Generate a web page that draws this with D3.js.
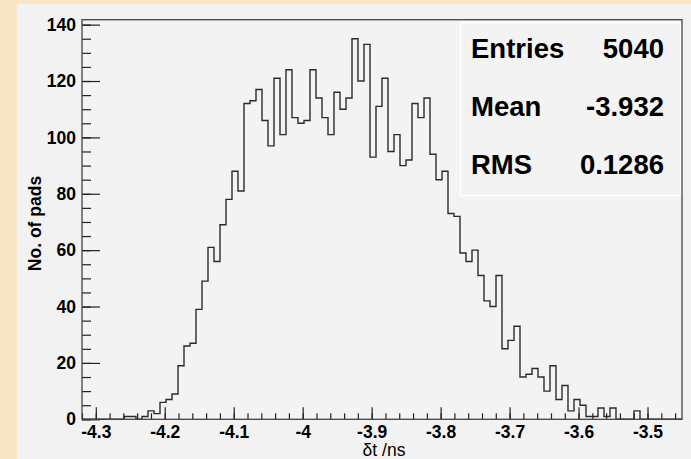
<!DOCTYPE html>
<html>
<head>
<meta charset="utf-8">
<script src="https://cdn.jsdelivr.net/npm/d3@7"></script>
<style>
  html, body { margin: 0; padding: 0; background: #f9e6c4; }
  svg { display: block; }
</style>
</head>
<body>
<svg id="chart" width="691" height="459"></svg>
<script>
// ---- data ----
const binLow = -4.32;
const binHigh = -3.45;
const counts = [
  0,0,0,0,0,0,0,1,1,0,
  1,3,2,6,7,9,19,26,27,39,
  49,61,56,69,78,88,81,112,113,117,
  106,97,121,101,124,107,105,106,124,114,
  107,101,116,110,114,135,120,133,93,111,
  121,95,101,90,92,112,107,114,94,85,
  88,73,72,59,56,60,51,42,40,51,
  25,28,33,15,16,18,15,10,19,7,
  12,3,7,5,1,1,4,1,4,0,
  0,0,3,0,0,0,0,0,0,0
];
const xTickValues = [-4.3,-4.2,-4.1,-4.0,-3.9,-3.8,-3.7,-3.6,-3.5];
const xTickLabels = ["-4.3","-4.2","-4.1","-4","-3.9","-3.8","-3.7","-3.6","-3.5"];
const yTickValues = [0,20,40,60,80,100,120,140];
const yTickLabels = ["0","20","40","60","80","100","120","140"];
const statNames = ["Entries","Mean","RMS"];
const statValues = ["5040","-3.932","0.1286"];
const xTitle = "δt /ns";
const yTitle = "No. of pads";

// ---- layout ----
const svg = d3.select("#chart");
const L = 82, R = 682, T = 19.7, B = 419.3;
const nb = counts.length;
const bw = (binHigh - binLow) / nb;
const yMax = d3.max(counts) * 1.05;

const x = d3.scaleLinear().domain([binLow, binHigh]).range([L, R]);
const y = d3.scaleLinear().domain([0, yMax]).range([B, T]);

// canvas
svg.append("rect").attr("x", 17).attr("y", 4).attr("width", 674).attr("height", 455)
  .attr("fill", "#f2f2f2");
// frame fill
svg.append("rect").attr("x", L).attr("y", T).attr("width", R - L).attr("height", B - T)
  .attr("fill", "#f3f3f3");

// histogram
const pts = [];
counts.forEach((c, i) => {
  const x0 = x(binLow + i * bw), x1 = x(binLow + (i + 1) * bw);
  pts.push([x0, y(c)], [x1, y(c)]);
});
svg.append("path")
  .attr("d", d3.line()(pts))
  .attr("fill", "none").attr("stroke", "#2b2b2b").attr("stroke-width", 1.4);

// stats box
const font = "Liberation Sans, Arial, sans-serif";
const sb = {x0: 460.5, y0: 22.5, x1: 681, y1: 195.5};
svg.append("rect").attr("x", sb.x0).attr("y", sb.y0)
  .attr("width", sb.x1 - sb.x0).attr("height", sb.y1 - sb.y0)
  .attr("fill", "#f3f3f3").attr("stroke", "#ffffff").attr("stroke-width", 1.5);
const rowH = (sb.y1 - sb.y0) / statNames.length;
statNames.forEach((n, i) => {
  const by = sb.y0 + rowH * (i + 0.5) + 7;
  svg.append("text").attr("x", 471).attr("y", by).text(n)
    .attr("font-family", font).attr("font-weight", "bold")
    .attr("font-size", 27.5).attr("fill", "#000");
  svg.append("text").attr("x", 664).attr("y", by).text(statValues[i])
    .attr("text-anchor", "end")
    .attr("font-family", font).attr("font-weight", "bold")
    .attr("font-size", 27.5).attr("fill", "#000");
});

// axes
const yMinor = d3.range(0, yMax, 5);
const gyMinor = svg.append("g").attr("transform", `translate(${L},0)`)
  .call(d3.axisLeft(y).tickValues(yMinor).tickSizeInner(-9).tickSizeOuter(0).tickFormat(""));
const gy = svg.append("g").attr("transform", `translate(${L},0)`)
  .call(d3.axisLeft(y).tickValues(yTickValues).tickSizeInner(-18).tickSizeOuter(0)
    .tickPadding(6).tickFormat((d, i) => yTickLabels[i]));

const xMinor = d3.range(-216, -172).map(k => k * 0.02).filter(v => v >= binLow - 1e-9 && v <= binHigh);
const gxMinor = svg.append("g").attr("transform", `translate(0,${B})`)
  .call(d3.axisBottom(x).tickValues(xMinor).tickSizeInner(-6).tickSizeOuter(0).tickFormat(""));
const gx = svg.append("g").attr("transform", `translate(0,${B})`)
  .call(d3.axisBottom(x).tickValues(xTickValues).tickSizeInner(-12).tickSizeOuter(0)
    .tickPadding(6).tickFormat((d, i) => xTickLabels[i]));

[gy, gx, gyMinor, gxMinor].forEach(g => {
  g.select(".domain").remove();
  g.selectAll("line").attr("stroke", "#222").attr("stroke-width", 1.2);
  g.selectAll("text").attr("font-family", font).attr("font-weight", "bold")
    .attr("font-size", 17.5).attr("fill", "#000");
});

// frame
svg.append("rect").attr("x", L).attr("y", T).attr("width", R - L).attr("height", B - T)
  .attr("fill", "none").attr("stroke", "#444").attr("stroke-width", 1.3);

// titles
svg.append("text").attr("x", 384).attr("y", 456).attr("text-anchor", "middle")
  .attr("font-family", font).attr("font-size", 17.5).attr("fill", "#000").text(xTitle);
svg.append("text").attr("transform", `translate(41,${(T + B) / 2 + 4}) rotate(-90)`)
  .attr("text-anchor", "middle").attr("font-family", font).attr("font-weight", "bold")
  .attr("font-size", 17.5).attr("fill", "#000").text(yTitle);
</script>
</body>
</html>
